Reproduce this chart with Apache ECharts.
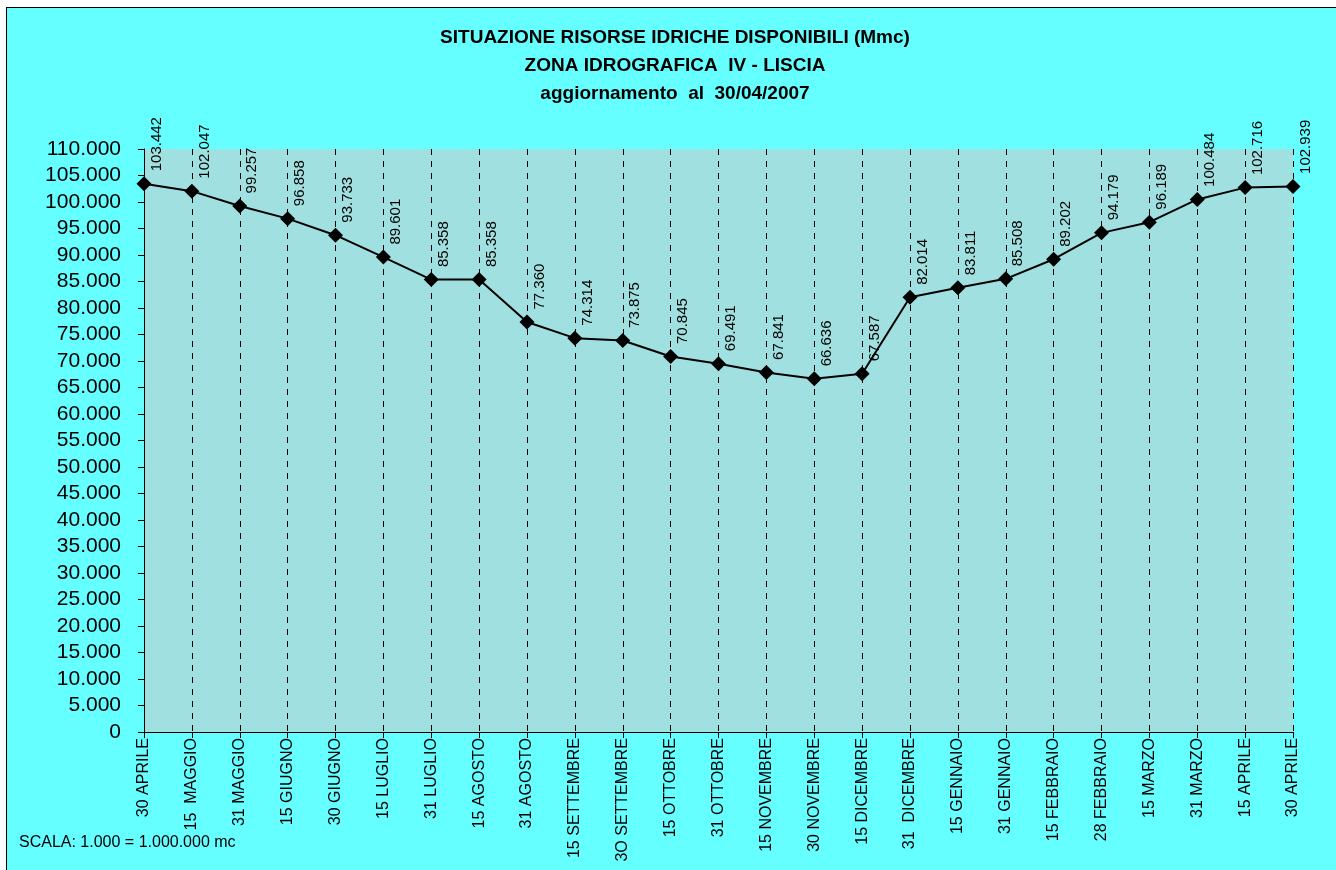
<!DOCTYPE html>
<html>
<head>
<meta charset="utf-8">
<script src="https://cdn.jsdelivr.net/npm/echarts@6/dist/echarts.min.js"></script>
<style>
html,body{margin:0;padding:0;background:#fff;overflow:hidden;}
#box{position:absolute;left:6px;top:7px;width:1400px;height:900px;border:1px solid #000;background:#66FFFF;}
#main{width:1329px;height:870px;}
</style>
</head>
<body>
<div id="box"><div id="main"></div></div>
<script>
// date di rilevazione
var categorie = ['30 APRILE','15  MAGGIO','31 MAGGIO','15 GIUGNO','30 GIUGNO','15 LUGLIO','31 LUGLIO','15 AGOSTO','31 AGOSTO',
    '15 SETTEMBRE','3O SETTEMBRE','15 OTTOBRE','31 OTTOBRE','15 NOVEMBRE','30 NOVEMBRE','15 DICEMBRE','31  DICEMBRE',
    '15 GENNAIO','31 GENNAIO','15 FEBBRAIO','28 FEBBRAIO','15 MARZO','31 MARZO','15 APRILE','30 APRILE'];
// volumi disponibili (Mmc)
var volumi = [103.442,102.047,99.257,96.858,93.733,89.601,85.358,85.358,77.360,74.314,73.875,70.845,69.491,67.841,
    66.636,67.587,82.014,83.811,85.508,89.202,94.179,96.189,100.484,102.716,102.939];
var titolo = ['SITUAZIONE RISORSE IDRICHE DISPONIBILI (Mmc)','ZONA IDROGRAFICA  IV - LISCIA','aggiornamento  al  30/04/2007'];
var nota = 'SCALA: 1.000 = 1.000.000 mc';

var font = "'Liberation Sans', Arial, sans-serif";
var myChart = echarts.init(document.getElementById('main'));
myChart.setOption({
    animation: false,
    textStyle: {fontFamily: font},
    title: {
        text: titolo.join('\n'),
        left: 663,
        textAlign: 'center',
        top: 11,
        textStyle: {fontSize: 19, fontWeight: 'bold', color: '#000', lineHeight: 28, fontFamily: font}
    },
    graphic: [{
        type: 'text',
        left: 12,
        top: 827,
        style: {text: nota, font: '16px ' + font, fill: '#000'}
    }],
    grid: {
        left: 137, right: 43, top: 141, bottom: 146,
        show: true, backgroundColor: '#A0E0E0', borderWidth: 0
    },
    xAxis: {
        type: 'category',
        data: categorie,
        boundaryGap: false,
        axisLine: {lineStyle: {color: '#000', width: 1}},
        axisTick: {show: true, length: 6, lineStyle: {color: '#000'}},
        axisLabel: {rotate: 90, fontSize: 16, color: '#000', margin: 6, interval: 0, fontFamily: font},
        splitLine: {show: true, lineStyle: {color: '#000', type: [6, 6], width: 1}}
    },
    yAxis: {
        type: 'value',
        min: 0, max: 110, interval: 5,
        axisLine: {show: true, lineStyle: {color: '#000', width: 1}},
        axisTick: {show: true, length: 6, lineStyle: {color: '#000'}},
        axisLabel: {
            fontSize: 21, color: '#000', margin: 23, fontFamily: font,
            formatter: function (v) { return v === 0 ? '0' : v.toFixed(3); }
        },
        splitLine: {show: false}
    },
    series: [{
        type: 'line',
        data: volumi,
        symbol: 'diamond',
        symbolSize: 15,
        itemStyle: {color: '#000'},
        lineStyle: {color: '#000', width: 2},
        label: {
            show: true,
            rotate: 90,
            position: [20, -5],
            align: 'left',
            verticalAlign: 'middle',
            fontSize: 15,
            color: '#000',
            fontFamily: font,
            formatter: function (p) { return p.value.toFixed(3); }
        }
    }]
});
</script>
</body>
</html>
